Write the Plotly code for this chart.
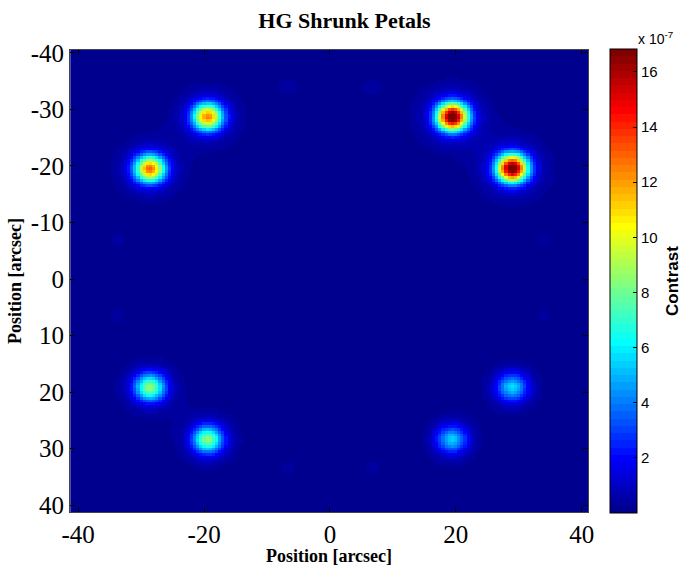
import numpy as np
import plotly.graph_objects as go

# ---- data ----
# spot centres in arcsec and peak contrast in units of 1e-7
spot_x = [19.5, 29.0, -19.4, -28.6, -28.6, -19.4, 29.0, 19.4,
          -6.7, 6.8, -33.8, 34.0, -33.8, 34.0, -6.7, 6.8]
spot_y = [-28.7, -19.6, -28.7, -19.5, 19.1, 28.3, 19.1, 28.3,
          -34.0, -34.0, -7.0, -7.0, 6.5, 6.5, 33.3, 33.3]
spot_peak = [16.8, 16.6, 11.6, 12.0, 8.0, 7.8, 5.2, 5.0,
             0.45, 0.45, 0.35, 0.35, 0.35, 0.35, 0.35, 0.35]
spot_sigma = [1.7, 1.7, 1.7, 1.7, 1.7, 1.7, 1.7, 1.7,
              1.2, 1.2, 1.2, 1.2, 1.2, 1.2, 1.2, 1.2]
halo_frac = 0.08
halo_sigma = 3.8
scale = 1e-7
z_min, z_max = 0.0, 16.83

x_tickvals = [-40, -20, 0, 20, 40]
x_ticktext = ["-40", "-20", "0", "20", "40"]
y_tickvals = [-40, -30, -20, -10, 0, 10, 20, 30, 40]
y_ticktext = ["-40", "-30", "-20", "-10", "0", "10", "20", "30", "40"]
cb_tickvals = [2, 4, 6, 8, 10, 12, 14, 16]
cb_ticktext = ["2", "4", "6", "8", "10", "12", "14", "16"]

# ---- grid ----
grid = np.arange(-41.0, 41.01, 0.5)
X, Y = np.meshgrid(grid, grid)
Z = np.zeros_like(X)
for sx, sy, a, s in zip(spot_x, spot_y, spot_peak, spot_sigma):
    r2 = (X - sx) ** 2 + (Y - sy) ** 2
    Z += a * np.exp(-r2 / (2 * s * s))
    Z += a * halo_frac * np.exp(-r2 / (2 * halo_sigma ** 2))
Z = Z * scale

# ---- MATLAB jet(64) as a banded colorscale ----
m = 64
n = int(np.ceil(m / 4))
u = np.concatenate([np.arange(1, n + 1) / n, np.ones(n - 1), np.arange(n, 0, -1) / n])
g = int(np.ceil(n / 2)) - (1 if m % 4 == 1 else 0) + np.arange(1, len(u) + 1)
r = g + n
b = g - n
J = np.zeros((m, 3))
J[r[r <= m] - 1, 0] = u[r <= m]
J[g[g <= m] - 1, 1] = u[g <= m]
J[b[b >= 1] - 1, 2] = u[b >= 1]
cs = []
for i in range(m):
    col = "rgb(%d,%d,%d)" % tuple(int(round(v * 255)) for v in J[i])
    cs.append([i / m, col])
    cs.append([(i + 1) / m, col])

PW, PH = 518, 462  # plot area size in px

fig = go.Figure(go.Heatmap(
    x=grid, y=grid, z=Z, zmin=z_min * scale, zmax=z_max * scale,
    colorscale=cs, zsmooth=False,
    colorbar=dict(
        x=1.0425, xanchor="left", y=0.5, yanchor="middle",
        thickness=27, thicknessmode="pixels", len=464, lenmode="pixels",
        ypad=0, xpad=0,
        outlinewidth=1, outlinecolor="black",
        tickvals=[v * scale for v in cb_tickvals], ticktext=cb_ticktext,
        ticks="inside", ticklen=4, tickcolor="black",
        tickfont=dict(family="Liberation Sans", size=15, color="black"),
    ),
))

axis_common = dict(
    showline=True, linecolor="#444", linewidth=1, mirror="ticks",
    ticks="inside", ticklen=5, tickcolor="black", showgrid=False, zeroline=False,
    tickfont=dict(family="Liberation Serif", size=25, color="black"),
)
fig.update_xaxes(range=[-41.3, 41.0], tickvals=x_tickvals, ticktext=x_ticktext,
                 title=dict(text="<b>Position [arcsec]</b>", standoff=5,
                            font=dict(family="Liberation Serif", size=18, color="black")),
                 **axis_common)
fig.update_yaxes(range=[41.2, -40.5], tickvals=y_tickvals, ticktext=y_ticktext,
                 title=dict(text="<b>Position [arcsec]</b>", standoff=4,
                            font=dict(family="Liberation Serif", size=18, color="black")),
                 **axis_common)

fig.update_layout(
    width=689, height=566,
    margin=dict(l=70, r=101, t=50, b=54, autoexpand=False),
    paper_bgcolor="white", plot_bgcolor="white",
    title=dict(text="<b>HG Shrunk Petals</b>", x=0.5, xanchor="center",
               y=1 - 20 / 566, yanchor="middle",
               font=dict(family="Liberation Serif", size=22, color="black")),
    annotations=[
        dict(text="x 10<sup>-7</sup>", xref="paper", yref="paper",
             x=(655 - 70) / PW, y=(512 - 38) / PH, xanchor="center", yanchor="middle",
             showarrow=False,
             font=dict(family="Liberation Sans", size=14, color="black")),
        dict(text="<b>Contrast</b>", xref="paper", yref="paper",
             x=(672 - 70) / PW, y=(512 - 281) / PH, xanchor="center", yanchor="middle",
             textangle=-90, showarrow=False,
             font=dict(family="Liberation Sans", size=17, color="black")),
    ],
)

fig.write_html("out.html")
